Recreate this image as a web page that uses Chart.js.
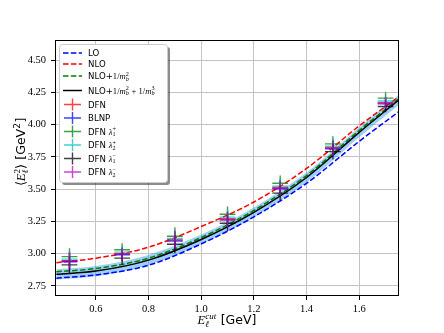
<!DOCTYPE html>
<html>
<head>
<meta charset="utf-8">
<script src="https://cdn.jsdelivr.net/npm/chart.js@4.4.0/dist/chart.umd.min.js"></script>
<style>
html, body { margin: 0; padding: 0; background: #fff; }
</style>
</head>
<body>
<canvas id="myChart" width="444" height="333"></canvas>
<script>
// theory curves
const curveX = [0.45, 0.6, 0.8, 1.0, 1.2, 1.4, 1.6, 1.75]
const loCurve = [2.81, 2.835, 2.91, 3.075, 3.285, 3.545, 3.87, 4.10]
const nloCurve = [2.93, 2.965, 3.05, 3.21, 3.40, 3.66, 3.99, 4.215]
const nloMb2Curve = [2.86, 2.885, 2.965, 3.125, 3.335, 3.605, 3.955, 4.20]
const nloMb3Curve = [2.84, 2.865, 2.95, 3.11, 3.32, 3.59, 3.94, 4.19]
const bandLow = [2.80, 2.825, 2.91, 3.072, 3.282, 3.552, 3.902, 4.152]
const bandHigh = [2.88, 2.905, 2.99, 3.148, 3.358, 3.628, 3.978, 4.228]

// model points (with error bars)
const pointX = [0.5, 0.7, 0.9, 1.1, 1.3, 1.5, 1.7]
const dfn = [2.945, 3.000, 3.105, 3.270, 3.510, 3.820, 4.170]
const blnp = [2.937, 2.992, 3.097, 3.262, 3.502, 3.812, 4.160]
const dfnL1p = [2.977, 3.030, 3.135, 3.305, 3.545, 3.850, 4.205]
const dfnL2p = [2.958, 3.012, 3.118, 3.283, 3.522, 3.832, 4.182]
const dfnL1m = [2.913, 2.965, 3.073, 3.235, 3.469, 3.790, 4.140]
const dfnL2m = [2.944, 2.996, 3.107, 3.262, 3.507, 3.817, 4.166]
const yErr = [0.065, 0.05, 0.07, 0.06, 0.06, 0.06, 0.045]
const xErr = 0.03

// axes
const xTicks = [0.6, 0.8, 1.0, 1.2, 1.4, 1.6]
const yTicks = [2.75, 3.00, 3.25, 3.50, 3.75, 4.00, 4.25, 4.50]

const serif = '"Liberation Serif", serif'
const sans = '"DejaVu Sans", sans-serif'

// turn a series into little crosses (horizontal + vertical bar)
function crossData(ys) {
    let out = []
    pointX.forEach((x, i) => {
        out.push({x: x - xErr, y: ys[i]}, {x: x + xErr, y: ys[i]}, {x: x, y: null})
        out.push({x: x, y: ys[i] - yErr[i]}, {x: x, y: ys[i] + yErr[i]}, {x: x, y: null})
    })
    return out
}
function curveData(ys) {
    return curveX.map((x, i) => ({x: x, y: ys[i]}))
}

const crossColors = {
    dfn: 'rgba(255,0,0,0.75)',
    blnp: 'rgba(0,0,255,0.75)',
    l1p: 'rgba(0,128,0,0.75)',
    l2p: 'rgba(0,191,191,0.75)',
    l1m: 'rgba(0,0,0,0.75)',
    l2m: 'rgba(191,0,191,0.75)'
}
const dash = [5.5, 2.4]

// small rich-text helper for the math bits
function fontOf(f, size) {
    if (f === 'sans') return size + 'px ' + sans
    if (f === 'it') return 'italic ' + size + 'px ' + serif
    return size + 'px ' + serif
}
function drawRich(ctx, x, y, parts, size, dry) {
    let cx = x
    for (const p of parts) {
        if (p.sub !== undefined || p.sup !== undefined) {
            let s = size * 0.72, w = 0
            if (p.sub) {
                ctx.font = fontOf(p.subF || 'rm', s)
                if (!dry) ctx.fillText(p.sub, cx, y + size * 0.22)
                w = Math.max(w, ctx.measureText(p.sub).width)
            }
            if (p.sup) {
                ctx.font = fontOf(p.supF || 'rm', s)
                if (!dry) ctx.fillText(p.sup, cx, y - size * 0.4)
                w = Math.max(w, ctx.measureText(p.sup).width)
            }
            cx += w + 0.5
        } else {
            ctx.font = fontOf(p.f, size)
            if (!dry) ctx.fillText(p.t, cx, y)
            cx += ctx.measureText(p.t).width
        }
    }
    return cx - x
}

const mb2 = [{t: '1/', f: 'rm'}, {t: 'm', f: 'it'}, {sub: 'b', subF: 'it', sup: '2'}]
const mb3 = [{t: '1/', f: 'rm'}, {t: 'm', f: 'it'}, {sub: 'b', subF: 'it', sup: '3'}]
const legendRows = [
    {y: 53, type: 'line', color: '#0000ff', dash: dash, parts: [{t: 'LO', f: 'sans'}]},
    {y: 64, type: 'line', color: '#ff0000', dash: dash, parts: [{t: 'NLO', f: 'sans'}]},
    {y: 76, type: 'line', color: '#008000', dash: dash, parts: [{t: 'NLO+', f: 'sans'}].concat(mb2)},
    {y: 90.5, type: 'line', color: '#000000', dash: [], parts: [{t: 'NLO+', f: 'sans'}].concat(mb2, [{t: ' + ', f: 'rm'}], mb3)},
    {y: 104.5, type: 'cross', color: crossColors.dfn, parts: [{t: 'DFN', f: 'sans'}]},
    {y: 118, type: 'cross', color: crossColors.blnp, parts: [{t: 'BLNP', f: 'sans'}]},
    {y: 131.5, type: 'cross', color: crossColors.l1p, parts: [{t: 'DFN ', f: 'sans'}, {t: 'λ', f: 'it'}, {sub: '1', sup: '+'}]},
    {y: 145, type: 'cross', color: crossColors.l2p, parts: [{t: 'DFN ', f: 'sans'}, {t: 'λ', f: 'it'}, {sub: '2', sup: '+'}]},
    {y: 158.5, type: 'cross', color: crossColors.l1m, parts: [{t: 'DFN ', f: 'sans'}, {t: 'λ', f: 'it'}, {sub: '1', sup: '−'}]},
    {y: 172, type: 'cross', color: crossColors.l2m, parts: [{t: 'DFN ', f: 'sans'}, {t: 'λ', f: 'it'}, {sub: '2', sup: '−'}]}
]

// frame, axis titles and the legend box
const decorations = {
    id: 'decorations',
    afterDatasetsDraw(chart) {
        const ctx = chart.ctx, a = chart.chartArea
        ctx.save()
        ctx.strokeStyle = '#000'
        ctx.lineWidth = 1
        ctx.strokeRect(Math.round(a.left) + 0.5, Math.round(a.top) + 0.5, Math.round(a.right - a.left) - 1, Math.round(a.bottom - a.top) - 1)
        ctx.restore()
    },
    afterDraw(chart) {
        const ctx = chart.ctx, a = chart.chartArea
        ctx.save()
        ctx.fillStyle = '#000'
        ctx.textBaseline = 'alphabetic'

        // x title
        const xParts = [{t: 'E', f: 'it'}, {sub: 'ℓ', subF: 'it', sup: 'cut', supF: 'it'}, {t: ' [GeV]', f: 'sans'}]
        let w = drawRich(ctx, 0, 0, xParts, 12.5, true)
        drawRich(ctx, (a.left + a.right) / 2 - w / 2, 324, xParts, 12.5)

        // y title
        const yParts = [{t: '⟨', f: 'rm'}, {t: 'E', f: 'it'}, {sub: 'ℓ', subF: 'it', sup: '2'}, {t: '⟩', f: 'rm'}, {t: ' [GeV', f: 'sans'}, {sup: '2', supF: 'sans'}, {t: ']', f: 'sans'}]
        w = drawRich(ctx, 0, 0, yParts, 12.5, true)
        ctx.save()
        ctx.translate(25, 152)
        ctx.rotate(-Math.PI / 2)
        drawRich(ctx, -w / 2, 0, yParts, 12.5)
        ctx.restore()

        // legend
        const bx = 59, by = 44, bw = 108, bh = 138
        ctx.fillStyle = 'rgba(0,0,0,0.45)'
        ctx.beginPath()
        ctx.roundRect(bx + 3, by + 3, bw, bh, 3)
        ctx.fill()
        ctx.fillStyle = '#fff'
        ctx.strokeStyle = '#cccccc'
        ctx.lineWidth = 1
        ctx.beginPath()
        ctx.roundRect(bx + 0.5, by + 0.5, bw, bh, 3)
        ctx.fill()
        ctx.stroke()

        for (const row of legendRows) {
            ctx.strokeStyle = row.color
            if (row.type === 'line') {
                ctx.lineWidth = 1.5
                ctx.setLineDash(row.dash)
                ctx.beginPath()
                ctx.moveTo(63, row.y)
                ctx.lineTo(82, row.y)
                ctx.stroke()
                ctx.setLineDash([])
            } else {
                ctx.lineWidth = 1.4
                ctx.beginPath()
                ctx.moveTo(64, row.y)
                ctx.lineTo(81, row.y)
                ctx.moveTo(72.5, row.y - 6)
                ctx.lineTo(72.5, row.y + 6)
                ctx.stroke()
            }
            ctx.fillStyle = '#000'
            drawRich(ctx, 88, row.y + 3, row.parts, 8.6)
        }
        ctx.restore()
    }
}

const ctx = document.querySelector('#myChart').getContext('2d')
const myChart = new Chart(ctx, {
    type: 'line',
    data: {
        datasets: [
            {label: 'DFN λ2-', data: crossData(dfnL2m), borderColor: crossColors.l2m, borderWidth: 1.4, pointRadius: 0, order: 1},
            {label: 'DFN λ1-', data: crossData(dfnL1m), borderColor: crossColors.l1m, borderWidth: 1.4, pointRadius: 0, order: 2},
            {label: 'DFN λ2+', data: crossData(dfnL2p), borderColor: crossColors.l2p, borderWidth: 1.4, pointRadius: 0, order: 3},
            {label: 'DFN λ1+', data: crossData(dfnL1p), borderColor: crossColors.l1p, borderWidth: 1.4, pointRadius: 0, order: 4},
            {label: 'BLNP', data: crossData(blnp), borderColor: crossColors.blnp, borderWidth: 1.4, pointRadius: 0, order: 5},
            {label: 'DFN', data: crossData(dfn), borderColor: crossColors.dfn, borderWidth: 1.4, pointRadius: 0, order: 6},
            {label: 'NLO+1/mb2+1/mb3', data: curveData(nloMb3Curve), borderColor: '#000', borderWidth: 1.5, pointRadius: 0, cubicInterpolationMode: 'monotone', order: 7},
            {label: 'NLO+1/mb2', data: curveData(nloMb2Curve), borderColor: '#008000', borderWidth: 1.5, borderDash: dash, pointRadius: 0, cubicInterpolationMode: 'monotone', order: 8},
            {label: 'NLO', data: curveData(nloCurve), borderColor: '#ff0000', borderWidth: 1.5, borderDash: dash, pointRadius: 0, cubicInterpolationMode: 'monotone', order: 9},
            {label: 'LO', data: curveData(loCurve), borderColor: '#0000ff', borderWidth: 1.5, borderDash: dash, pointRadius: 0, cubicInterpolationMode: 'monotone', order: 10},
            {label: 'band low', data: curveData(bandLow), borderWidth: 0, pointRadius: 0, cubicInterpolationMode: 'monotone', fill: false, order: 11},
            {label: 'band high', data: curveData(bandHigh), borderWidth: 0, pointRadius: 0, cubicInterpolationMode: 'monotone', fill: '-1', backgroundColor: 'rgba(60,160,240,0.5)', order: 12}
        ]
    },
    options: {
        responsive: false,
        animation: false,
        devicePixelRatio: 1,
        layout: {padding: {top: 40, right: 45, left: 0, bottom: 0}},
        plugins: {legend: {display: false}, tooltip: {enabled: false}},
        scales: {
            x: {
                type: 'linear',
                min: 0.445,
                max: 1.751,
                afterBuildTicks: s => { s.ticks = xTicks.map(v => ({value: v})) },
                afterFit: s => { s.height = 37 },
                grid: {color: '#c4c4c4', lineWidth: 1, tickLength: 4, tickColor: '#000'},
                border: {display: false},
                ticks: {color: '#000', font: {family: serif, size: 10.5}, padding: 3, maxRotation: 0, callback: v => v.toFixed(1)}
            },
            y: {
                min: 2.672,
                max: 4.655,
                afterBuildTicks: s => { s.ticks = yTicks.map(v => ({value: v})) },
                afterFit: s => { s.width = 55 },
                grid: {color: '#c4c4c4', lineWidth: 1, tickLength: 4, tickColor: '#000'},
                border: {display: false},
                ticks: {color: '#000', font: {family: serif, size: 10.5}, padding: 5, callback: v => v.toFixed(2)}
            }
        }
    },
    plugins: [decorations]
})
</script>
</body>
</html>
